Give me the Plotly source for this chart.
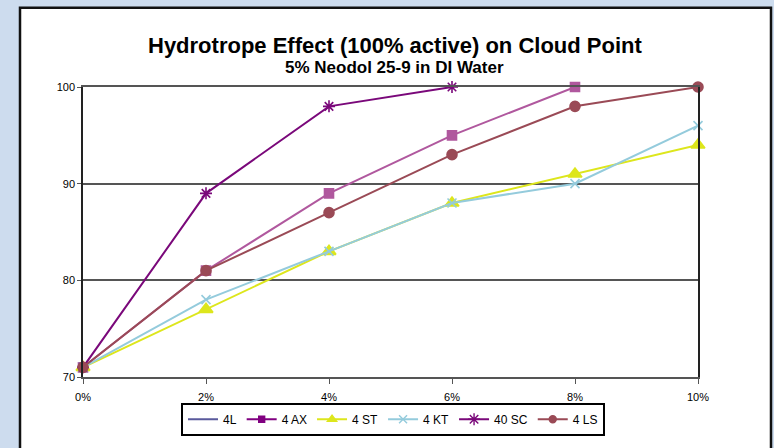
import plotly.graph_objects as go

categories = ["0%", "2%", "4%", "6%", "8%", "10%"]
s_4L = []
s_4AX = [71, 81, 89, 95, 100]
s_4ST = [71, 77, 83, 88, 91, 94]
s_4KT = [71, 78, 83, 88, 90, 96]
s_40SC = [71, 89, 98, 100]
s_4LS = [71, 81, 87, 93, 98, 100]
y_ticks = [70, 80, 90, 100]

FONT = "Liberation Sans, Arial, Helvetica, sans-serif"
BG = "#cddcee"

# plot area in pixels
L, R, T, B = 83, 698, 87, 380
W, H = 774, 448

def px_x(p):
    return (p - L) / (R - L)

def px_y(p):
    return (B - p) / (B - T)

fig = go.Figure()

# name, values, data colour, legend colour, symbol, data size, legend size
series = [
    ("4L", s_4L, "#5a5a9c", "#5a5a9c", None, 0, 0),
    ("4 AX", s_4AX, "#b0589e", "#800080", "square", 9, 6),
    ("4 ST", s_4ST, "#dde61c", "#dde61c", "triangle-up", 12, 8),
    ("4 KT", s_4KT, "#94cbdc", "#94cbdc", "x-thin-open", 9, 8),
    ("40 SC", s_40SC, "#7a087a", "#7a087a", "asterisk-open", 10, 10),
    ("4 LS", s_4LS, "#9a4a56", "#9a4a56", "circle", 10, 7),
]

for name, vals, dcol, lcol, sym, size, lsize in series:
    mk = dict(symbol=sym, size=size, color=dcol,
              line=dict(width=1.6, color=dcol)) if sym else None
    if vals:
        fig.add_trace(go.Scatter(
            x=categories[:len(vals)], y=vals, name=name, legendgroup=name,
            mode="lines+markers" if sym else "lines",
            line=dict(color=dcol, width=2), marker=mk, showlegend=False,
            cliponaxis=False, hoverinfo="skip"))
    lmk = dict(symbol=sym, size=lsize, color=lcol,
               line=dict(width=1.4, color=lcol)) if sym else None
    fig.add_trace(go.Scatter(
        x=[None], y=[None], name=name, legendgroup=name,
        mode="lines+markers" if sym else "lines",
        line=dict(color=lcol, width=2), marker=lmk, showlegend=True))

# white chart frame on blue background
fig.add_shape(type="rect", xref="paper", yref="paper",
              x0=px_x(20), x1=px_x(771), y0=px_y(470), y1=px_y(7),
              line=dict(color="#111111", width=2.5), fillcolor="white",
              layer="below")

fig.add_annotation(text="<b>Hydrotrope Effect (100% active) on Cloud Point</b>",
                   xref="paper", yref="paper", x=px_x(395), y=px_y(45),
                   xanchor="center", yanchor="middle", showarrow=False,
                   font=dict(family=FONT, size=22, color="black"))
fig.add_annotation(text="<b>5% Neodol 25-9 in DI Water</b>",
                   xref="paper", yref="paper", x=px_x(394), y=px_y(67.5),
                   xanchor="center", yanchor="middle", showarrow=False,
                   font=dict(family=FONT, size=17, color="black"))

fig.update_layout(
    width=W, height=H,
    margin=dict(l=L, r=W - R, t=T, b=H - B),
    paper_bgcolor=BG,
    plot_bgcolor="rgba(0,0,0,0)",
    font=dict(family=FONT, size=11, color="black"),
    showlegend=True,
    legend=dict(orientation="h", x=px_x(393), xanchor="center",
                y=px_y(406), yanchor="top",
                bordercolor="black", borderwidth=2, bgcolor="white",
                font=dict(family=FONT, size=12, color="black"),
                itemclick=False, traceorder="normal"),
)

fig.update_xaxes(type="category", categoryorder="array",
                 categoryarray=categories, range=[0, len(categories) - 1],
                 showgrid=False, showline=True, linecolor="#555555",
                 linewidth=1.5, mirror=True, ticks="outside", ticklen=5,
                 tickcolor="#555555", tickfont=dict(size=11), zeroline=False,
                 ticklabelstandoff=4)
fig.update_yaxes(range=[70, 100], tickvals=y_ticks, showgrid=True,
                 gridcolor="#555555", gridwidth=1.5, showline=True,
                 linecolor="#222222", linewidth=1.5, mirror=True,
                 ticks="outside", ticklen=4, tickcolor="#555555",
                 tickfont=dict(size=11), zeroline=False)

fig.write_html(
    "out.html",
    config={"displayModeBar": False},
    post_script="document.body.style.margin='0';"
                "document.body.style.background='" + BG + "';"
                "document.documentElement.style.overflow='hidden';",
)
